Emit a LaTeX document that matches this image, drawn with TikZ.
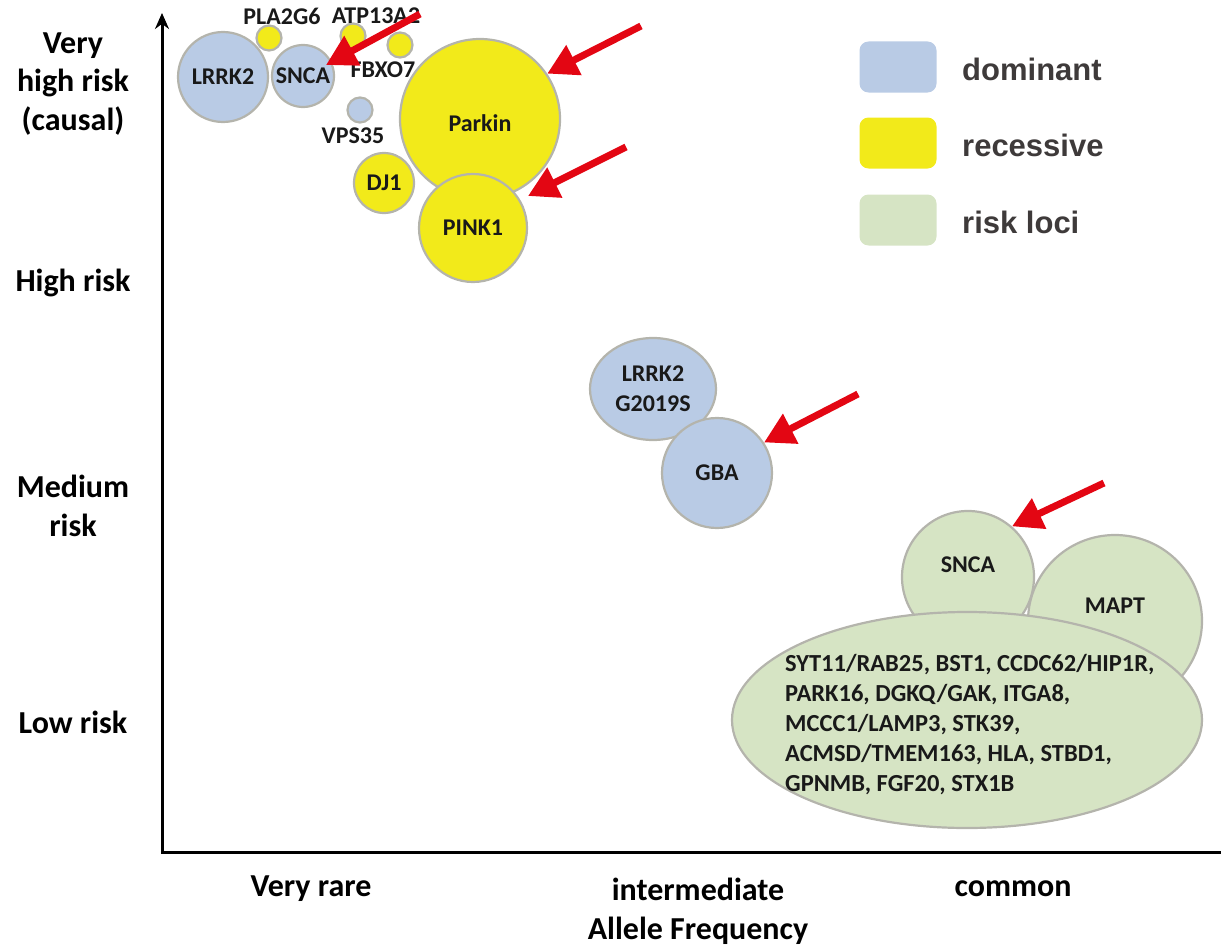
\documentclass[tikz,border=0pt]{standalone}
\usepackage{fontspec}
\setmainfont{Carlito}
\newfontfamily\legfont{Liberation Sans}
\usetikzlibrary{arrows.meta,shapes.geometric}
\definecolor{domc}{HTML}{B9CBE5}
\definecolor{recc}{HTML}{F2EA1A}
\definecolor{riskc}{HTML}{D6E4C4}
\definecolor{edgec}{HTML}{B4B4AC}
\definecolor{legtext}{HTML}{3E3A3A}
\definecolor{arrowc}{HTML}{E30613}
\begin{document}
\begin{tikzpicture}[x=1pt,y=-1pt,
  bub/.style={circle,draw=edgec,line width=2.2pt,inner sep=0pt,font=\fontsize{24}{27}\selectfont\bfseries,text=black!90},
  dom/.style={bub,fill=domc},
  rec/.style={bub,fill=recc},
  risk/.style={bub,fill=riskc},
  lab/.style={font=\fontsize{24}{27}\selectfont\bfseries,text=black!90,inner sep=0pt},
  axlab/.style={font=\fontsize{32}{38.5}\selectfont\bfseries,align=center,inner sep=0pt},
  leg/.style={rounded corners=9pt,fill=#1,minimum width=77pt,minimum height=51pt,inner sep=0pt},
  legt/.style={font=\fontsize{31}{34}\selectfont\legfont\bfseries,text=legtext,anchor=west,inner sep=0pt},
  redarrow/.style={draw=arrowc,line width=7pt,-{Triangle[length=30pt,width=32pt]}}]
\useasboundingbox (0,0) rectangle (1221,950);
% axes
\coordinate (origin) at (162,852);
\coordinate (ytop) at (162,13);
\coordinate (xend) at (1232,852);
\draw[line width=3pt,-{Stealth[length=16pt,width=14pt]},{Stealth[length=16pt,width=14pt]}-] (ytop) -- (origin) -- (xend);
% axis labels
\node[axlab] (vh) at (73,84) {Very\\high risk\\(causal)};
\node[axlab] (hr) at (73,283) {High risk};
\node[axlab] (mr) at (73,506) {Medium\\risk};
\node[axlab] (lr) at (73,722) {Low risk};
\node[axlab] (vr) at (311,889) {Very rare};
\node[axlab] (im) at (698,889) {intermediate};
\node[axlab] (cm) at (1013,889) {common};
\node[axlab] (af) at (698,931) {Allele Frequency};
% top-left bubbles
\node[rec,minimum size=25pt] (pla) at (269,38) {};
\node[rec,minimum size=25pt] (atp) at (353,36) {};
\node[rec,minimum size=25pt] (fbx) at (400,45) {};
\node[dom,minimum size=25pt] (vps) at (360,110) {};
\node[dom,minimum size=90pt] (lrrk) at (223,77) {LRRK2};
\node[dom,minimum size=62pt] (snca) at (303,76) {SNCA};
\node[rec,minimum size=60pt] (dj) at (384,183) {DJ1};
\node[rec,minimum size=160pt] (parkin) at (480,119) {};
\node[lab] at (480,123) {Parkin};
\node[rec,minimum size=108pt] (pink) at (473,228) {PINK1};
\node[lab] (plal) at (282,16) {PLA2G6};
\node[lab] (atpl) at (376,16) {ATP13A2};
\node[lab] (fbxl) at (383,70) {FBXO7};
\node[lab] (vpsl) at (353,136) {VPS35};
% medium
\node[dom,ellipse,minimum width=126pt,minimum height=102pt,align=center,font=\fontsize{24}{30}\selectfont\bfseries] (g2019) at (653,389) {LRRK2\\G2019S};
\node[dom,minimum size=110pt] (gba) at (717,473) {GBA};
% risk loci
\node[risk,minimum size=132pt] (sncar) at (968,577) {};
\node[lab] at (968,565) {SNCA};
\node[risk,ellipse,minimum width=174pt,minimum height=172pt] (mapt) at (1115,621) {};
\node[lab] at (1115,606) {MAPT};
\node[risk,ellipse,minimum width=470pt,minimum height=216pt] (loci) at (967,720) {};
\node[lab,anchor=base west,align=left,font=\fontsize{24.5}{30}\selectfont\bfseries] (locit) at (785,791) {SYT11/RAB25, BST1, CCDC62/HIP1R,\\PARK16, DGKQ/GAK, ITGA8,\\MCCC1/LAMP3, STK39,\\ACMSD/TMEM163, HLA, STBD1,\\GPNMB, FGF20, STX1B};
% legend
\node[leg=domc] (ld) at (898,67) {};
\node[leg=recc] (lrc) at (898,143) {};
\node[leg=riskc] (lk) at (898,220) {};
\node[legt] (ldt) at (962,69) {dominant};
\node[legt] (lrt) at (962,145) {recessive};
\node[legt] (lkt) at (962,222) {risk loci};
% red arrows
\coordinate (a1) at (420,14);
\coordinate (a1t) at (326,65);
\coordinate (a2) at (641,26);
\coordinate (a3) at (626,147);
\coordinate (a3t) at (528,196);
\coordinate (a4) at (858,394);
\coordinate (a5) at (1104,483);
\draw[redarrow] (a1) -- (a1t);
\draw[redarrow] (a2) -- (parkin.34);
\draw[redarrow] (a3) -- (a3t);
\draw[redarrow] (a4) -- (gba.33);
\draw[redarrow] (a5) -- (sncar.49);
\end{tikzpicture}
\end{document}
